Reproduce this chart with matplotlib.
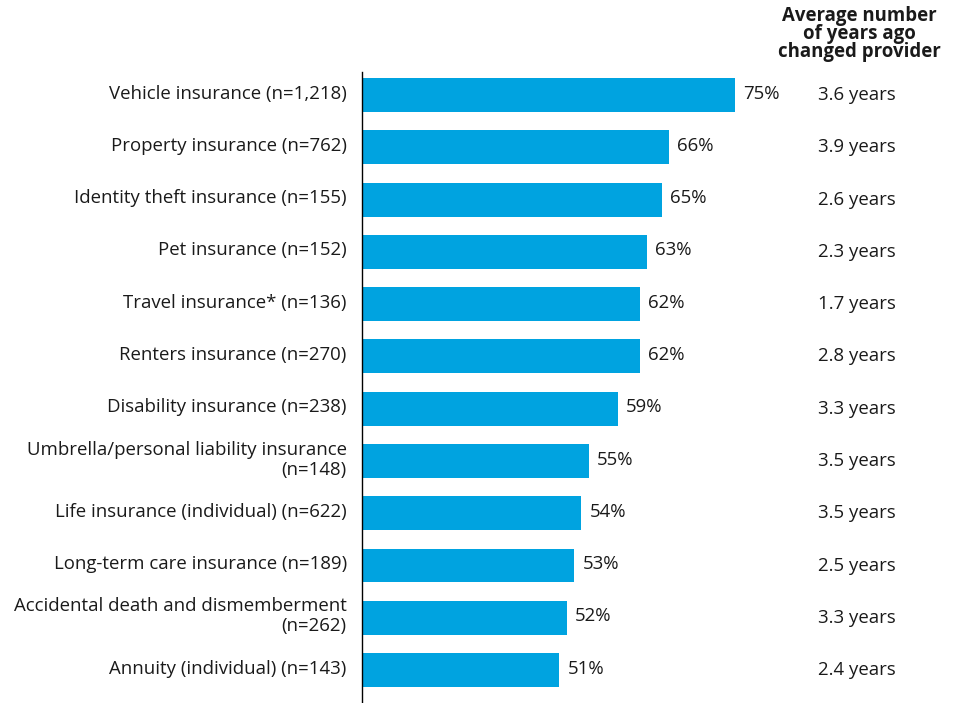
import matplotlib.pyplot as plt

plt.rcParams["font.family"] = ["Open Sans", "DejaVu Sans"]

categories = [
    "Vehicle insurance (n=1,218)",
    "Property insurance (n=762)",
    "Identity theft insurance (n=155)",
    "Pet insurance (n=152)",
    "Travel insurance* (n=136)",
    "Renters insurance (n=270)",
    "Disability insurance (n=238)",
    "Umbrella/personal liability insurance\n(n=148)",
    "Life insurance (individual) (n=622)",
    "Long-term care insurance (n=189)",
    "Accidental death and dismemberment\n(n=262)",
    "Annuity (individual) (n=143)",
]
switched_pct = [75, 66, 65, 63, 62, 62, 59, 55, 54, 53, 52, 51]
years_ago = [3.6, 3.9, 2.6, 2.3, 1.7, 2.8, 3.3, 3.5, 3.5, 2.5, 3.3, 2.4]

BAR_COLOR = "#00A3E0"
TEXT_COLOR = "#1a1a1a"
FS = 13.4

fig = plt.figure(figsize=(9.58, 7.03), dpi=100)
ax = fig.add_axes([362 / 958, 0.0, 1 - 362 / 958, 1 - 72 / 703])

ypos = list(range(len(categories)))
ax.barh(ypos, switched_pct, height=0.65, color=BAR_COLOR, left=0)

ax.set_xlim(24, 24 + 596 / 7.31)
ax.set_ylim(len(categories) - 1 + 0.63, -0.44)

# category names, right-aligned against the axis line
for y, name in zip(ypos, categories):
    ax.annotate(name, (0, y), xycoords=("axes fraction", "data"),
                xytext=(-11, 1), textcoords="offset points",
                ha="right", va="center", fontsize=FS, color=TEXT_COLOR,
                linespacing=1.15, annotation_clip=False)

for y, v in zip(ypos, switched_pct):
    ax.annotate(f"{v}%", (v, y), xytext=(6, 1), textcoords="offset points",
                ha="left", va="center", fontsize=FS, color=TEXT_COLOR)

# years column, placed in figure pixels to the right of the bars
for y, yrs in zip(ypos, years_ago):
    ax.annotate(f"{yrs:.1f} years", (0, y), xycoords=("figure fraction", "data"),
                xytext=(818 / 958, 0), textcoords=("figure fraction", "offset points"),
                ha="left", va="center", fontsize=FS, color=TEXT_COLOR)

fig.text(859 / 958, 1 - 6 / 703, "Average number\nof years ago\nchanged provider",
         ha="center", va="top", fontsize=FS, fontweight="bold",
         linespacing=0.85, color=TEXT_COLOR)

ax.set_yticks([])
ax.set_xticks([])
for side in ("top", "right", "bottom"):
    ax.spines[side].set_visible(False)
ax.spines["left"].set_color("#000000")
ax.spines["left"].set_linewidth(1.0)

fig.savefig("out.png", dpi=100)
